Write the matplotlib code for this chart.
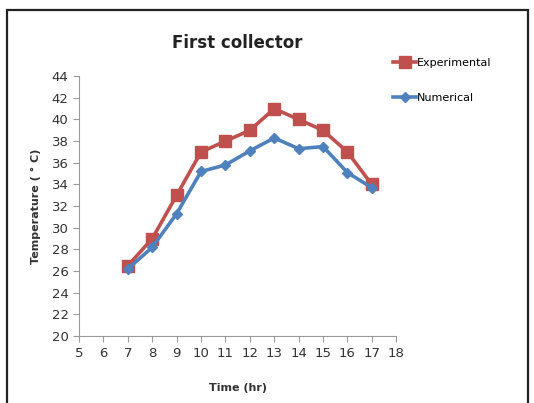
import matplotlib.pyplot as plt
from matplotlib.patches import Rectangle

hours = [7, 8, 9, 10, 11, 12, 13, 14, 15, 16, 17]
experimental = [26.5, 29.0, 33.0, 37.0, 38.0, 39.0, 41.0, 40.0, 39.0, 37.0, 34.0]
numerical = [26.2, 28.2, 31.3, 35.2, 35.8, 37.1, 38.3, 37.3, 37.5, 35.1, 33.7]

x_ticks = list(range(5, 19))
y_ticks = list(range(20, 45, 2))

fig = plt.figure(figsize=(5.34, 4.03), dpi=100)
ax = fig.add_axes([0.148, 0.166, 0.594, 0.645])

# outer chart border (cropped at right/bottom like the source image)
fig.patches.append(Rectangle((0.014, -0.01), 0.975, 0.985, transform=fig.transFigure,
                             fill=False, edgecolor='#222222', linewidth=1.6))

ax.plot(hours, experimental, color='#C0504D', linewidth=2.6, marker='s', markersize=8,
        label='Experimental')
ax.plot(hours, numerical, color='#4F81BD', linewidth=2.6, marker='D', markersize=5,
        label='Numerical')

ax.set_xlim(5, 18)
ax.set_ylim(20, 44)
ax.set_xticks(x_ticks)
ax.set_yticks(y_ticks)
for s in ['top', 'right']:
    ax.spines[s].set_visible(False)
for s in ['left', 'bottom']:
    ax.spines[s].set_color('#9a9a9a')
ax.tick_params(colors='#9a9a9a', labelcolor='#333333', labelsize=9.5, length=4)

ax.set_title('First collector', fontsize=12, fontweight='bold', color='#222222', pad=20)
ax.set_xlabel('Time (hr)', fontsize=8, fontweight='bold', color='#333333', labelpad=17)
ax.set_ylabel('Temperature ( ° C)', fontsize=8, fontweight='bold', color='#333333', labelpad=8)

fig.legend(loc='upper left', bbox_to_anchor=(0.718, 0.88), frameon=False, fontsize=8,
           handlelength=2.0, handletextpad=0.1, labelspacing=2.2)

fig.savefig('out.png', dpi=100)
